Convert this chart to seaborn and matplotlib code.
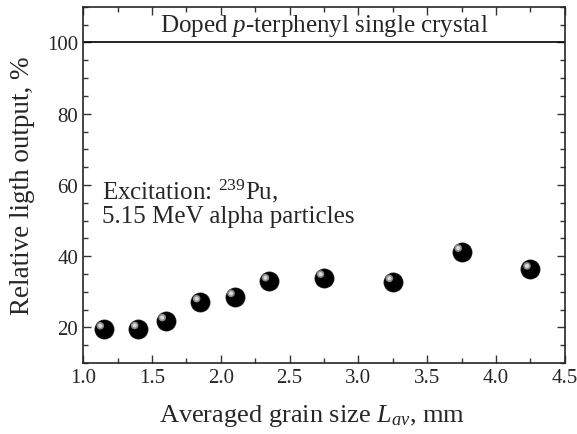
import matplotlib
matplotlib.use("Agg")
import matplotlib.pyplot as plt
import matplotlib.transforms as mtransforms
import numpy as np
import seaborn as sns

# grain size (mm) vs relative light output (%)
grain_size = [1.15, 1.40, 1.60, 1.85, 2.10, 2.35, 2.75, 3.25, 3.75, 4.25]
light_output = [19.5, 19.6, 21.8, 27.1, 28.6, 33.0, 34.0, 32.8, 41.3, 36.3]
reference_level = 100

sns.set_style("ticks")
plt.rcParams["font.family"] = ["Liberation Serif", "DejaVu Serif"]
plt.rcParams["mathtext.fontset"] = "custom"
plt.rcParams["mathtext.rm"] = "Liberation Serif"
plt.rcParams["mathtext.it"] = "Liberation Serif:italic"

fig, ax = plt.subplots(figsize=(5.77, 4.35), dpi=100)
fig.subplots_adjust(left=0.144, right=0.979, top=0.982, bottom=0.163)

# glossy spheres: black ball + small highlight offset up-left
sns.scatterplot(x=grain_size, y=light_output, ax=ax, s=190, color="black",
                edgecolor="#111111", linewidth=0.5, zorder=3, legend=False)
hl = mtransforms.offset_copy(ax.transData, fig=fig, x=-2.5, y=2.5, units="points")
ax.scatter(grain_size, light_output, s=30, color="#8a8a8a", edgecolors="none",
           transform=hl, zorder=4)
ax.scatter(grain_size, light_output, s=9, color="#d8d8d8", edgecolors="none",
           transform=hl, zorder=5)

ax.axhline(reference_level, color="black", lw=1.2)
ax.text(2.75, 105, "Doped $p$-terphenyl single crystal", ha="center", va="center",
        fontsize=18)
ax.text(1.135, 56.2, "Excitation: $^{239}$Pu,", ha="left", va="baseline", fontsize=18)
ax.text(1.135, 49.5, "5.15 MeV alpha particles", ha="left", va="baseline", fontsize=18)

ax.set_xlim(1.0, 4.5)
ax.set_ylim(10, 110)
ax.set_xticks(np.arange(1.0, 4.51, 0.5))
ax.set_xticks(np.arange(1.0, 4.51, 0.25), minor=True)
ax.set_yticks([20, 40, 60, 80, 100])
ax.set_yticks(np.arange(10, 111, 5), minor=True)
ax.tick_params(which="both", direction="in", top=True, right=True, labelsize=15,
               width=1.0, color="#333333")
ax.tick_params(which="major", length=6)
ax.tick_params(which="minor", length=3.5)
for sp in ax.spines.values():
    sp.set_linewidth(1.2)
    sp.set_visible(True)

ax.set_xlabel("Averaged grain size $L_{av}$, mm", fontsize=19, labelpad=11, x=0.476)
ax.set_ylabel("Relative ligth output, %", fontsize=19.5, labelpad=9)

fig.savefig("out.png", dpi=100)
